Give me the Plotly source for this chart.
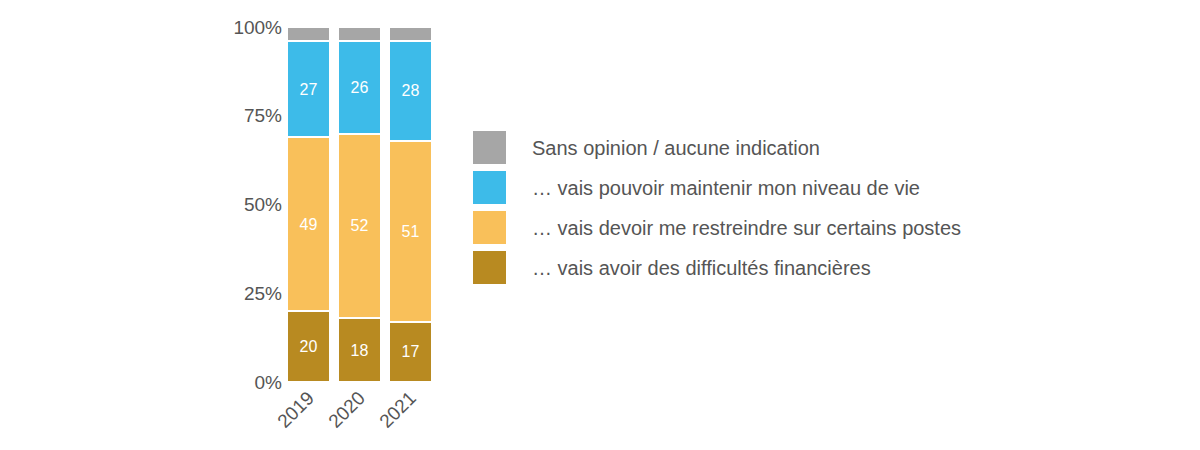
import plotly.graph_objects as go

years = ["2019", "2020", "2021"]
difficultes = [20, 18, 17]
restreindre = [49, 52, 51]
maintenir = [27, 26, 28]
sans_opinion = [4, 4, 4]
names = ["… vais avoir des difficultés financières",
         "… vais devoir me restreindre sur certains postes",
         "… vais pouvoir maintenir mon niveau de vie",
         "Sans opinion / aucune indication"]
colors = ["#b88a21", "#f9c05a", "#3dbbe9", "#a6a6a6"]
series = [difficultes, restreindre, maintenir, sans_opinion]
labels_on = [True, True, True, False]
ytick_vals = [0, 25, 50, 75, 100]
ytick_text = ["0%", "25%", "50%", "75%", "100%"]

fig = go.Figure()
for s, n, c, lab in zip(series, names, colors, labels_on):
    fig.add_bar(x=years, y=s, name=n, marker=dict(color=c, line=dict(color="white", width=2)),
                text=[str(v) for v in s] if lab else None, textposition="inside",
                insidetextanchor="middle", textfont=dict(color="white", size=16),
                showlegend=False)

L, T, W, H = 275, 19, 153, 355
def px(x): return (x - L) / W
def py(y): return (T + H - y) / H

legend_order = [3, 2, 1, 0]
for i, k in enumerate(legend_order):
    top = 123 + 40 * i
    fig.add_shape(type="rect", xref="paper", yref="paper",
                  x0=px(465), x1=px(498), y0=py(top + 33), y1=py(top),
                  fillcolor=colors[k], line=dict(width=0))
    fig.add_annotation(xref="paper", yref="paper", x=px(522), y=py(top + 17),
                       text=names[k], showarrow=False, xanchor="left", yanchor="middle",
                       font=dict(size=20, color="#555"))

fig.update_layout(
    barmode="stack", bargap=0.16, width=1200, height=450,
    margin=dict(l=L, r=1200 - L - W, t=T, b=450 - T - H, autoexpand=False),
    plot_bgcolor="white", paper_bgcolor="white",
    font=dict(family="Liberation Sans, Arial", color="#555", size=19),
    yaxis=dict(range=[0, 100], tickmode="array", tickvals=ytick_vals, ticktext=ytick_text,
               showgrid=False, zeroline=False, automargin=False),
    xaxis=dict(tickangle=-45, showgrid=False, automargin=False),
)
fig.write_html("out.html")
